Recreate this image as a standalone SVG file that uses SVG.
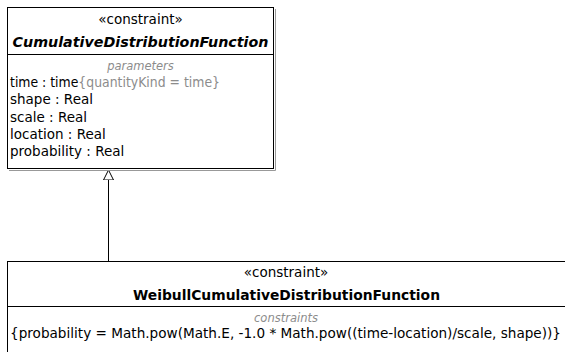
<svg xmlns="http://www.w3.org/2000/svg" width="565" height="352" viewBox="0 0 565 352">
<defs>
<style>
.box{fill:#fff;stroke:#000;stroke-width:1}
.shadow{fill:none;stroke:#999;stroke-width:1}
.sep{stroke:#000;stroke-width:1}
text{font-family:"DejaVu Sans",Verdana,sans-serif;font-size:13.5px;fill:#000}
.st{text-anchor:middle}
.ttl{text-anchor:middle;font-weight:bold;font-size:14px}
.cmp{text-anchor:middle;font-style:italic;font-size:11.5px;fill:#8c8c8c}
.gray{fill:#8c8c8c}
.conn{fill:none;stroke:#000;stroke-width:1}
</style>
<marker id="gen" markerWidth="12" markerHeight="12" refX="10" refY="5" orient="auto" markerUnits="userSpaceOnUse" viewBox="0 0 12 10">
<path d="M0,0 L10,5 L0,10 Z" fill="#fff" stroke="#000" stroke-width="1"/>
</marker>
</defs>
<rect width="565" height="352" fill="#fff"/>
<g id="connectors">
<path class="conn" d="M108.5,261 L108.5,170" marker-end="url(#gen)"/>
</g>
<g id="CumulativeDistributionFunction">
<path class="shadow" d="M275.5,9 L275.5,170.5 L9,170.5"/>
<rect class="box" x="7.5" y="7.5" width="266" height="161"/>
<line class="sep" x1="7.5" y1="54.5" x2="273.5" y2="54.5"/>
<text class="st" x="140.5" y="24">«constraint»</text>
<text class="ttl" x="140.5" y="46.5" font-style="italic" textLength="256" lengthAdjust="spacingAndGlyphs">CumulativeDistributionFunction</text>
<text class="cmp" x="140.5" y="70">parameters</text>
<text x="10" y="87" textLength="210" lengthAdjust="spacingAndGlyphs">time : time<tspan class="gray">{quantityKind = time}</tspan></text>
<text x="10" y="104.3">shape : Real</text>
<text x="10" y="121.6">scale : Real</text>
<text x="10" y="138.9">location : Real</text>
<text x="10" y="156.2">probability : Real</text>
</g>
<g id="WeibullCumulativeDistributionFunction">
<rect class="box" x="7.5" y="261.5" width="570" height="120"/>
<line class="sep" x1="7.5" y1="306.5" x2="566" y2="306.5"/>
<text class="st" x="286" y="277">«constraint»</text>
<text class="ttl" x="286.5" y="299.5" textLength="307" lengthAdjust="spacingAndGlyphs">WeibullCumulativeDistributionFunction</text>
<text class="cmp" x="286" y="322">constraints</text>
<text x="10" y="338" textLength="551" lengthAdjust="spacingAndGlyphs">{probability = Math.pow(Math.E, -1.0 * Math.pow((time-location)/scale, shape))}</text>
</g>
</svg>
